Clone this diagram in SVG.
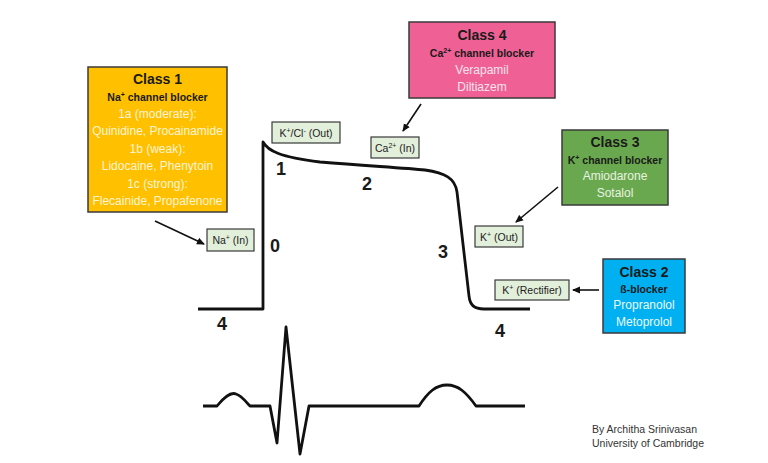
<svg xmlns="http://www.w3.org/2000/svg" width="768" height="463" viewBox="0 0 768 463">
<style>
text{font-family:"Liberation Sans",Arial,sans-serif;text-anchor:middle}
.ttl{font-size:14px;font-weight:bold;fill:#1a1a1a}
.sub{font-size:10.5px;font-weight:bold;fill:#1a1a1a}
.drug{font-size:12px}
.box{stroke:#3a3a3a;stroke-width:1.5}
.lbl rect{fill:#E2EFDA;stroke:#3a3a3a;stroke-width:1.2}
.lbl text{font-size:10.5px;fill:#222}
.ph{font-size:18px;font-weight:bold;fill:#1a1a1a}
.wave{fill:none;stroke:#111;stroke-width:2.8;stroke-linejoin:round}
.arr{stroke:#111;stroke-width:1.6;fill:none;marker-end:url(#ah)}
.sup{font-size:7px}
</style>
<defs>
<marker id="ah" markerWidth="8" markerHeight="8" refX="7" refY="4" orient="auto" markerUnits="userSpaceOnUse">
<path d="M0,0.5 L8,4 L0,7.5 Z" fill="#111"/>
</marker>
</defs>
<rect width="768" height="463" fill="#fff"/>

<g id="class1">
<rect class="box" x="88" y="67" width="139" height="145" fill="#FFC000"/>
<text class="ttl" x="157.5" y="84">Class 1</text>
<text class="sub" x="157.5" y="101">Na<tspan class="sup" dy="-4">+</tspan><tspan dy="4"> channel blocker</tspan></text>
<g class="drug" fill="#FFF5D6">
<text x="157.5" y="118">1a (moderate):</text>
<text x="157.5" y="135">Quinidine, Procainamide</text>
<text x="157.5" y="152.5">1b (weak):</text>
<text x="157.5" y="170">Lidocaine, Phenytoin</text>
<text x="157.5" y="187.5">1c (strong):</text>
<text x="157.5" y="205">Flecainide, Propafenone</text>
</g>
</g>

<g id="class4">
<rect class="box" x="409" y="22" width="146" height="76" fill="#EF6094"/>
<text class="ttl" x="482" y="40">Class 4</text>
<text class="sub" x="482" y="57">Ca<tspan class="sup" dy="-4">2+</tspan><tspan dy="4"> channel blocker</tspan></text>
<text class="drug" x="482" y="74" fill="#FCE4EE">Verapamil</text>
<text class="drug" x="482" y="91" fill="#FCE4EE">Diltiazem</text>
</g>

<g id="class3">
<rect class="box" x="562" y="130" width="106" height="75" fill="#6AA84F"/>
<text class="ttl" x="615" y="147">Class 3</text>
<text class="sub" x="615" y="164">K<tspan class="sup" dy="-4">+</tspan><tspan dy="4"> channel blocker</tspan></text>
<text class="drug" x="615" y="180" fill="#E8F3E0">Amiodarone</text>
<text class="drug" x="615" y="197" fill="#E8F3E0">Sotalol</text>
</g>

<g id="class2">
<rect class="box" x="603" y="259" width="82" height="74" fill="#00B0F0"/>
<text class="ttl" x="644" y="277">Class 2</text>
<text class="sub" x="644" y="293">ß-blocker</text>
<text class="drug" x="644" y="309" fill="#EAF8FF">Propranolol</text>
<text class="drug" x="644" y="326" fill="#EAF8FF">Metoprolol</text>
</g>

<g id="na-in" class="lbl">
<rect x="207" y="229" width="47" height="22"/>
<text x="230.5" y="244">Na<tspan class="sup" dy="-4">+</tspan><tspan dy="4"> (In)</tspan></text>
</g>
<g id="kcl-out" class="lbl">
<rect x="272" y="122" width="68" height="21"/>
<text x="306" y="136.5">K<tspan class="sup" dy="-4">+</tspan><tspan dy="4">/Cl</tspan><tspan class="sup" dy="-4">-</tspan><tspan dy="4"> (Out)</tspan></text>
</g>
<g id="ca-in" class="lbl">
<rect x="371" y="137" width="48" height="21"/>
<text x="395" y="151.5">Ca<tspan class="sup" dy="-4">2+</tspan><tspan dy="4"> (In)</tspan></text>
</g>
<g id="k-out" class="lbl">
<rect x="475" y="226" width="48" height="21"/>
<text x="499" y="240.5">K<tspan class="sup" dy="-4">+</tspan><tspan dy="4"> (Out)</tspan></text>
</g>
<g id="k-rect" class="lbl">
<rect x="495" y="280" width="74" height="20"/>
<text x="532" y="294">K<tspan class="sup" dy="-4">+</tspan><tspan dy="4"> (Rectifier)</tspan></text>
</g>

<g id="connectors">
<line class="arr" x1="155" y1="221" x2="204" y2="244"/>
<line class="arr" x1="421" y1="104" x2="403" y2="131"/>
<line class="arr" x1="558" y1="187" x2="516" y2="222"/>
<line class="arr" x1="599" y1="290" x2="573" y2="290"/>
</g>

<g id="action-potential">
<path class="wave" d="M198,309 H263 V142 C268,151 280,157 320,162 C370,166 405,168 425,170 C445,173 455,178 457,192 L469,296 C470,305 474,309 484,309 L530,309"/>
<text class="ph" x="275" y="252">0</text>
<text class="ph" x="281" y="175">1</text>
<text class="ph" x="367" y="190">2</text>
<text class="ph" x="443" y="258">3</text>
<text class="ph" x="222" y="330">4</text>
<text class="ph" x="500" y="337">4</text>
</g>

<g id="ecg">
<path class="wave" d="M203,406 H217 C225,396 232,392 236,394 C242,396 246,402 250,406 H270 L277,443 L286,327 L300,454 L309,406 H419 C428,392 436,385 447,385 C458,385 466,392 476,406 H525"/>
</g>

<g id="credit" fill="#333">
<text x="592" y="433" style="text-anchor:start;font-size:10.5px">By Architha Srinivasan</text>
<text x="592" y="447" style="text-anchor:start;font-size:10.5px">University of Cambridge</text>
</g>
</svg>
